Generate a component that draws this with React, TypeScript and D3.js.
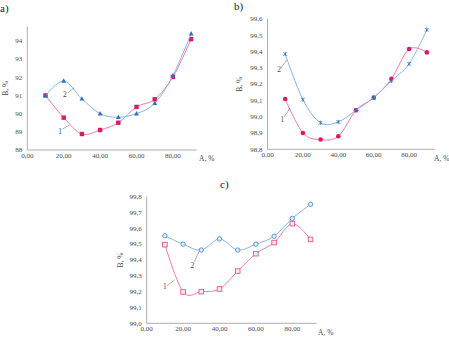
import React from 'react';
import * as d3 from 'd3';

// A, % — shared x values
const aValues = [10, 20, 30, 40, 50, 60, 70, 80, 90];
const xTicks = [0, 20, 40, 60, 80];

// panel a
const aSeries1 = [91.0, 89.78, 88.88, 89.1, 89.5, 90.37, 90.79, 92.02, 94.1];
const aSeries2 = [91.0, 91.8, 90.82, 90.0, 89.8, 90.0, 90.57, 92.1, 94.4];
const aYTicks = [88, 89, 90, 91, 92, 93, 94];

// panel b
const bSeries1 = [99.109, 98.9, 98.86, 98.88, 99.04, 99.117, 99.233, 99.416, 99.395];
const bSeries2 = [99.385, 99.105, 98.963, 98.968, 99.04, 99.117, 99.22, 99.325, 99.534];
const bYTicks = [98.8, 98.9, 99.0, 99.1, 99.2, 99.3, 99.4, 99.5, 99.6];

// panel c
const cSeries1 = [99.497, 99.198, 99.2, 99.217, 99.33, 99.44, 99.51, 99.63, 99.53];
const cSeries2 = [99.553, 99.5, 99.463, 99.533, 99.463, 99.5, 99.55, 99.663, 99.752];
const cYTicks = [99.0, 99.1, 99.2, 99.3, 99.4, 99.5, 99.6, 99.7, 99.8];

const FONT = "'Liberation Serif', 'Times New Roman', Times, serif";
const PINK_LINE = '#f17aa9';
const BLUE_LINE = '#86b6e4';
const PINK = '#d9196a';
const BLUE = '#2e6fbe';
const AXIS = '#9a9a9a';
const TEXT = '#4a4a4a';

const fmtX = (v: number) => v.toFixed(2).replace('.', ',');

type Marker = 'square' | 'triangle' | 'circle' | 'star' | 'openSquare' | 'openCircle';

interface SeriesDef {
  values: number[];
  line: string;
  color: string;
  marker: Marker;
  label: string;
  // label anchor and leader, in data units
  at: [number, number];
  leader: [[number, number], [number, number]];
}

interface PanelProps {
  title: string;
  titlePos: [number, number];
  xDomain: [number, number];
  xRange: [number, number];
  yDomain: [number, number];
  yRange: [number, number];
  yTicks: number[];
  yFormat: (v: number) => string;
  yLabelX: number;
  xLabelPos: [number, number];
  series: SeriesDef[];
}

const drawMarker = (m: Marker, x: number, y: number, color: string, key: number) => {
  switch (m) {
    case 'square':
      return <rect key={key} x={x - 2.2} y={y - 2.2} width={4.4} height={4.4} fill={color} />;
    case 'triangle':
      return (
        <path key={key} d={`M${x},${y - 2.6}L${x + 2.4},${y + 1.8}L${x - 2.4},${y + 1.8}Z`} fill={color} />
      );
    case 'circle':
      return <circle key={key} cx={x} cy={y} r={2.3} fill={color} />;
    case 'star':
      return (
        <g key={key} stroke={color} strokeWidth={0.8}>
          <line x1={x - 1.8} y1={y - 1.8} x2={x + 1.8} y2={y + 1.8} />
          <line x1={x - 1.8} y1={y + 1.8} x2={x + 1.8} y2={y - 1.8} />
          <line x1={x} y1={y - 2.1} x2={x} y2={y + 2.1} />
        </g>
      );
    case 'openSquare':
      return (
        <rect key={key} x={x - 2.3} y={y - 2.3} width={4.6} height={4.6} fill="#fde6ef" stroke={color} strokeWidth={0.9} />
      );
    case 'openCircle':
      return <circle key={key} cx={x} cy={y} r={2.2} fill="#e2eefa" stroke={color} strokeWidth={0.9} />;
  }
};

const Panel = (props: PanelProps) => {
  const { title, titlePos, xDomain, xRange, yDomain, yRange, yTicks, yFormat, yLabelX, xLabelPos, series } = props;
  const x = d3.scaleLinear().domain(xDomain).range(xRange);
  const y = d3.scaleLinear().domain(yDomain).range(yRange);
  const line = d3
    .line<number>()
    .x((_, i) => x(aValues[i]))
    .y((d) => y(d))
    .curve(d3.curveCardinal.tension(0));

  return (
    <g style={{ fontFamily: FONT }}>
      <text x={titlePos[0]} y={titlePos[1]} fontSize={11} fill="#222">{title}</text>

      {/* axes */}
      <line x1={xRange[0]} x2={xRange[0]} y1={yRange[0]} y2={yRange[1]} stroke={AXIS} strokeWidth={0.8} />
      <line x1={xRange[0]} x2={xRange[1]} y1={yRange[0]} y2={yRange[0]} stroke={AXIS} strokeWidth={0.8} />

      {yTicks.map((t) => (
        <text key={t} x={xRange[0] - 5} y={y(t)} dy="0.33em" textAnchor="end" fontSize={7} fill={TEXT}>
          {yFormat(t)}
        </text>
      ))}
      {xTicks.map((t) => (
        <text key={t} x={x(t)} y={yRange[0] + 7.5} textAnchor="middle" fontSize={7} fill={TEXT}>
          {fmtX(t)}
        </text>
      ))}

      <text
        transform={`translate(${yLabelX},${(yRange[0] + yRange[1]) / 2}) rotate(-90)`}
        textAnchor="middle"
        fontSize={7.5}
        fill={TEXT}
      >
        B, %
      </text>
      <text x={xLabelPos[0]} y={xLabelPos[1]} fontSize={7.5} fill={TEXT}>A, %</text>

      {series.map((s, si) => (
        <g key={si}>
          <path d={line(s.values) || ''} fill="none" stroke={s.line} strokeWidth={1} />
          {s.values.map((v, i) => drawMarker(s.marker, x(aValues[i]), y(v), s.color, i))}
          <line
            x1={x(s.leader[0][0])}
            y1={y(s.leader[0][1])}
            x2={x(s.leader[1][0])}
            y2={y(s.leader[1][1])}
            stroke="#777"
            strokeWidth={0.6}
          />
          <text x={x(s.at[0])} y={y(s.at[1])} dy="0.33em" textAnchor="middle" fontSize={7.5} fill={TEXT}>
            {s.label}
          </text>
        </g>
      ))}
    </g>
  );
};

const intFmt = (v: number) => d3.format('d')(v);
const decFmt = (v: number) => v.toFixed(1).replace('.', ',');

export default function App() {
  return (
    <svg
      width={449}
      height={339}
      style={{ position: 'absolute', left: 0, top: 0, background: '#fff' }}
    >
      <Panel
        title="a)"
        titlePos={[0, 12]}
        xDomain={[0, 93]}
        xRange={[27.3, 196.6]}
        yDomain={[88, 94.8]}
        yRange={[150, 26.4]}
        yTicks={aYTicks}
        yFormat={intFmt}
        yLabelX={8}
        xLabelPos={[199, 161]}
        series={[
          {
            values: aSeries1, line: PINK_LINE, color: PINK, marker: 'square', label: '1',
            at: [18, 89.0], leader: [[19.3, 89.15], [23.2, 89.38]],
          },
          {
            values: aSeries2, line: BLUE_LINE, color: BLUE, marker: 'triangle', label: '2',
            at: [20.7, 91.03], leader: [[22.2, 91.15], [25.8, 91.43]],
          },
        ]}
      />
      <Panel
        title="b)"
        titlePos={[234, 10]}
        xDomain={[0, 94.5]}
        xRange={[267.5, 434.8]}
        yDomain={[98.8, 99.6]}
        yRange={[149.3, 19]}
        yTicks={bYTicks}
        yFormat={decFmt}
        yLabelX={242}
        xLabelPos={[434, 161]}
        series={[
          {
            values: bSeries1, line: PINK_LINE, color: PINK, marker: 'circle', label: '1',
            at: [8.4, 98.984], leader: [[9.5, 99.0], [12.7, 99.052]],
          },
          {
            values: bSeries2, line: BLUE_LINE, color: BLUE, marker: 'star', label: '2',
            at: [6.5, 99.291], leader: [[7.5, 99.297], [10.85, 99.348]],
          },
        ]}
      />
      <Panel
        title="c)"
        titlePos={[220, 188]}
        xDomain={[0, 93.4]}
        xRange={[146.7, 316.7]}
        yDomain={[99.0, 99.8]}
        yRange={[323.3, 196.7]}
        yTicks={cYTicks}
        yFormat={decFmt}
        yLabelX={123}
        xLabelPos={[318, 335]}
        series={[
          {
            values: cSeries1, line: PINK_LINE, color: '#e3558f', marker: 'openSquare', label: '1',
            at: [10.05, 99.231], leader: [[11.3, 99.238], [15.2, 99.274]],
          },
          {
            values: cSeries2, line: BLUE_LINE, color: '#4c8ed3', marker: 'openCircle', label: '2',
            at: [25.05, 99.368], leader: [[26.15, 99.389], [28.9, 99.457]],
          },
        ]}
      />
    </svg>
  );
}
